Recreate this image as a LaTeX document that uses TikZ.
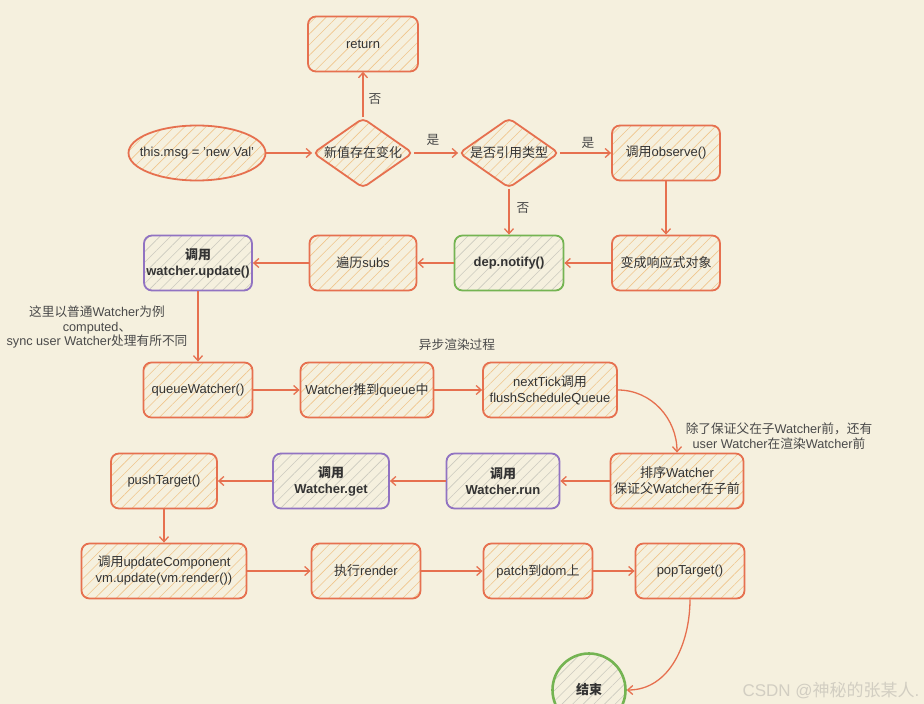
\documentclass[tikz,border=0pt]{standalone}
\usepackage{fontspec}
\setmainfont{Liberation Sans}
\newfontfamily\cjk{Noto Sans CJK SC}
\usetikzlibrary{shapes.geometric,arrows.meta,patterns.meta}
\definecolor{bg}{HTML}{F5F0DE}
\definecolor{ored}{HTML}{E6704F}
\definecolor{ohatch}{HTML}{F0C58C}
\definecolor{purp}{HTML}{9173C2}
\definecolor{grn}{HTML}{74B452}
\definecolor{ghatch}{HTML}{CCCABF}
\definecolor{txt}{HTML}{333333}
\definecolor{note}{HTML}{4A4A4A}
\definecolor{wmark}{HTML}{D2CEC2}
\newcommand\zh[1]{{\cjk #1}}
\tikzset{
  hatcho/.style={pattern={Lines[angle=45,distance=7.5pt,line width=0.6pt]}, pattern color=ohatch},
  hatchg/.style={pattern={Lines[angle=45,distance=7.5pt,line width=0.6pt]}, pattern color=ghatch},
  base/.style={line width=1.8pt, rounded corners=8pt, minimum height=55pt, inner sep=0pt, align=center},
  obox/.style={base, draw=ored, hatcho},
  pbox/.style={base, draw=purp, hatchg, font=\fontsize{13}{16}\selectfont\bfseries},
  gbox/.style={base, draw=grn, hatchg, font=\fontsize{13}{16}\selectfont\bfseries},
  dia/.style={diamond, draw=ored, hatcho, line width=1.8pt, rounded corners=5pt, inner sep=0pt, minimum width=100pt, minimum height=70pt},
  arr/.style={draw=ored, line width=1.3pt, -{Straight Barb[length=5pt,width=9pt]}},
  lbl/.style={font=\fontsize{12.7}{14.5}\selectfont, text=note, align=center},
}
\begin{document}
\begin{tikzpicture}[x=1pt,y=-1pt, font=\fontsize{13}{16}\selectfont, text=txt]
\fill[bg] (0,0) rectangle (924,704);
\useasboundingbox (0,0) rectangle (924,704);

% row 1
\node[obox, minimum width=110pt] (ret) at (363,44) {return};
\node[ellipse, draw=ored, hatcho, line width=1.8pt, inner sep=0pt, minimum width=137pt, minimum height=55pt] (msg) at (197,153) {\makebox[0pt]{this.msg = 'new Val'}};
\node[dia] (chg) at (363,153) {\makebox[0pt]{\zh{新值存在变化}}};
\node[dia] (ref) at (509,153) {\makebox[0pt]{\zh{是否引用类型}}};
\node[obox, minimum width=108pt] (obs) at (666,153) {\zh{调用}observe()};

% row 2
\node[obox, minimum width=108pt] (resp) at (666,263) {\zh{变成响应式对象}};
\node[gbox, minimum width=109pt] (dep) at (509,263) {dep.notify()};
\node[obox, minimum width=107pt] (subs) at (363,263) {\zh{遍历}subs};
\node[pbox, minimum width=108pt] (upd) at (198,263) {\zh{调用}\\watcher.update()};

% row 3
\node[obox, minimum width=109pt] (qw) at (198,390) {queueWatcher()};
\node[obox, minimum width=133pt] (push) at (367,390) {Watcher\zh{推到}queue\zh{中}};
\node[obox, minimum width=134pt] (tick) at (550,390) {nextTick\zh{调用}\\flushScheduleQueue};

% row 4
\node[obox, minimum width=133pt] (sort) at (677,481) {\zh{排序}Watcher\\\zh{保证父}Watcher\zh{在子前}};
\node[pbox, minimum width=113pt] (run) at (503,481) {\zh{调用}\\Watcher.run};
\node[pbox, minimum width=116pt] (get) at (331,481) {\zh{调用}\\Watcher.get};
\node[obox, minimum width=106pt] (pt) at (164,481) {pushTarget()};

% row 5
\node[obox, minimum width=165pt] (uc) at (164,571) {\zh{调用}updateComponent\\vm.update(vm.render())};
\node[obox, minimum width=109pt] (rend) at (366,571) {\zh{执行}render};
\node[obox, minimum width=109pt] (patch) at (538,571) {patch\zh{到}dom\zh{上}};
\node[obox, minimum width=109pt] (pop) at (690,571) {popTarget()};
\node[circle, draw=grn, hatchg, line width=2.6pt, inner sep=0pt, minimum size=73pt, font=\fontsize{13}{16}\selectfont\bfseries] (end) at (589,690) {\zh{结束}};

% texts
\node[lbl] (l1) at (375,99) {\zh{否}};
\node[lbl] (l2) at (433,140) {\zh{是}};
\node[lbl] (l3) at (588,143) {\zh{是}};
\node[lbl] (l4) at (523,208) {\zh{否}};
\node[lbl] (note1) at (97,327) {\zh{这里以普通}Watcher\zh{为例}\\computed\zh{、}\\sync user Watcher\zh{处理有所不同}};
\node[lbl] (async) at (457,345) {\zh{异步渲染过程}};
\node[lbl] (note2) at (779,436) {\zh{除了保证父在子}Watcher\zh{前，还有}\\user Watcher\zh{在渲染}Watcher\zh{前}};
\node[font=\fontsize{17}{20}\selectfont, text=wmark] (wm) at (831,690) {CSDN @\zh{神秘的张某人}.};

% connectors
\draw[arr] (msg) -- (chg);
\draw[arr] (chg) -- (ret);
\draw[arr] (chg) -- (ref);
\draw[arr] (ref) -- (obs);
\draw[arr] (ref) -- (dep);
\draw[arr] (obs) -- (resp);
\draw[arr] (resp) -- (dep);
\draw[arr] (dep) -- (subs);
\draw[arr] (subs) -- (upd);
\draw[arr] (upd) -- (qw);
\draw[arr] (qw) -- (push);
\draw[arr] (push) -- (tick);
\draw[arr] (tick.east) to[out=0,in=90] (sort.north);
\draw[arr] (sort) -- (run);
\draw[arr] (run) -- (get);
\draw[arr] (get) -- (pt);
\draw[arr] (pt) -- (uc);
\draw[arr] (uc) -- (rend);
\draw[arr] (rend) -- (patch);
\draw[arr] (patch) -- (pop);
\draw[arr] (pop.south) to[out=-90,in=0] (end.east);
\end{tikzpicture}
\end{document}
